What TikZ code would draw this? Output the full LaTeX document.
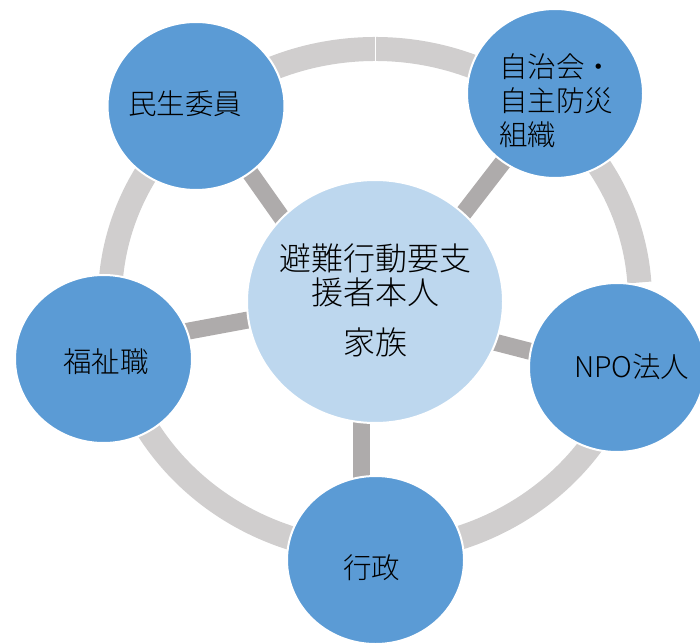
\documentclass[tikz,border=0pt]{standalone}
\usepackage{fontspec}
\newfontfamily\jp{Noto Sans CJK JP}[UprightFont=* Light]
\usetikzlibrary{shapes.geometric}
\definecolor{outerblue}{HTML}{5B9BD5}
\definecolor{innerblue}{HTML}{BDD7EE}
\definecolor{ringgray}{HTML}{D0CECE}
\definecolor{spokegray}{HTML}{AEABAB}
\tikzset{
  outercircle/.style={ellipse, fill=outerblue, draw=white, line width=2pt, inner sep=0pt, minimum width=177pt, minimum height=168pt},
  innercircle/.style={ellipse, fill=innerblue, draw=white, line width=2pt, inner sep=0pt, minimum width=256pt, minimum height=243pt},
  ringline/.style={draw=ringgray, line width=24pt},
  spoke/.style={draw=spokegray, line width=17pt},
  outertext/.style={inner sep=0pt, text=black, font=\jp\fontsize{28.5}{34}\selectfont},
  innertext/.style={inner sep=0pt, text=black, align=center, font=\jp\fontsize{32}{34}\selectfont}
}
\begin{document}
\begin{tikzpicture}[x=1pt,y=1pt]
\useasboundingbox (0,0) rectangle (700,643);
% ring
\coordinate (rc) at (375,343);
\draw[ringline] ([shift={(4:265 and 251)}]rc) arc[start angle=4, end angle=344, x radius=265, y radius=251];
\coordinate (seamA) at (375,608);
\coordinate (seamB) at (375,581);
\draw[white, line width=0.8pt] (seamA) -- (seamB);
% spokes
\coordinate (s1a) at (233.5,493.7); \coordinate (s1b) at (303.9,394);
\coordinate (s2a) at (525.7,510.3); \coordinate (s2b) at (440.6,400.1);
\coordinate (s3a) at (150.7,304.9); \coordinate (s3b) at (290,330.8);
\coordinate (s4a) at (457.3,310.5); \coordinate (s4b) at (567.7,282);
\coordinate (s5a) at (361.5,253);   \coordinate (s5b) at (361.5,133);
\draw[spoke] (s1a) -- (s1b);
\draw[spoke] (s2a) -- (s2b);
\draw[spoke] (s3a) -- (s3b);
\draw[spoke] (s4a) -- (s4b);
\draw[spoke] (s5a) -- (s5b);
% circles
\node[innercircle] (c) at (375,341.5) {};
\node[outercircle] (a) at (196,537) {};
\node[outercircle, minimum width=176pt, minimum height=169pt] (b) at (555,549.5) {};
\node[outercircle, minimum width=176pt, minimum height=169pt] (d) at (617,275.5) {};
\node[outercircle] (e) at (375.5,83) {};
\node[outercircle] (f) at (103.5,284) {};
% texts
\node[innertext] (ct) at (375,343) {避難行動要支\\援者本人\\[16pt]家族};
\node[outertext] (at) at (185,539.7) {民生委員};
\node[outertext, anchor=west, align=left] (bt) at (499,542) {自治会・\\自主防災\\組織};
\node[outertext] (dt) at (631.7,276.3) {NPO法人};
\node[outertext] (et) at (371.7,75) {行政};
\node[outertext] (ft) at (106,281.3) {福祉職};
\end{tikzpicture}
\end{document}
